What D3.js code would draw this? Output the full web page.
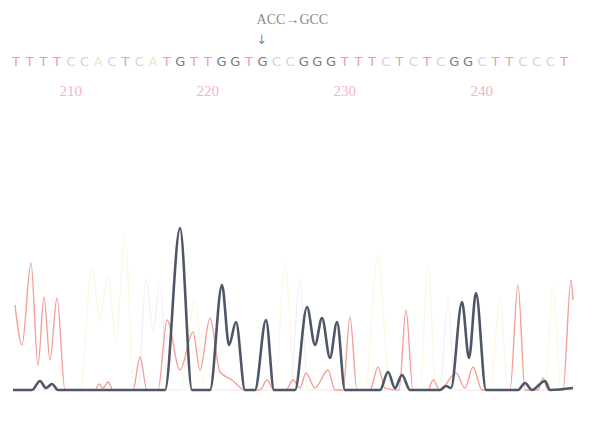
<!DOCTYPE html>
<html>
<head>
<meta charset="utf-8">
<script src="https://cdn.jsdelivr.net/npm/d3@7"></script>
<style>
  body { margin: 0; background: #fff; }
</style>
</head>
<body>
<div id="chart"></div>
<script>
// base calls, first base is number 206
const sequence = "TTTTCCACTCATGTTGGTGCCGGGTTTCTCTCGGCTTCCCT";
const firstBase = 206;
const positionTicks = [210, 220, 230, 240];
const mutationLabel = "ACC\u2192GCC";
const mutationBase = 224;

// trace vertices: [scan, intensity]
const traceG = [
  [0, 0], [19, 0], [27, 56], [33, 12], [39, 37], [45, 0], [152, 0], [167, 1000], [179, 0],
  [197, 0], [209, 648], [216, 278], [223, 420], [232, 0], [242, 0], [253, 432], [261, 0],
  [282, 0], [294, 512], [302, 278], [309, 444], [317, 198], [324, 420], [332, 0],
  [367, 0], [375, 111], [382, 12], [389, 93], [397, 0], [427, 0], [433, 25], [438, 12],
  [449, 543], [456, 198], [463, 599], [473, 0], [505, 0], [512, 43], [519, 0],
  [532, 56], [537, 0], [560, 12]
];
const traceT = [
  [2, 525], [9, 278], [18, 784], [25, 154], [31, 574], [37, 185], [44, 568], [52, 0],
  [82, 0], [86, 37], [90, 12], [95, 49], [100, 0], [120, 0], [127, 204], [134, 0],
  [145, 0], [154, 432], [167, 123], [180, 358], [187, 123], [197, 444], [207, 111],
  [219, 62], [232, 0], [247, 0], [254, 62], [261, 0], [273, 0], [280, 62], [287, 12],
  [293, 105], [302, 12], [315, 123], [322, 0], [330, 0], [337, 451], [344, 0],
  [357, 0], [365, 142], [372, 12], [386, 0], [393, 494], [400, 0], [415, 0], [420, 62],
  [427, 0], [443, 105], [452, 12], [460, 142], [469, 0], [497, 0], [505, 648], [512, 0],
  [525, 0], [530, 74], [535, 0], [550, 0], [558, 679], [560, 556]
];
const traceA = [
  [0, 0], [67, 0], [79, 753], [87, 432], [95, 710], [103, 309], [112, 951], [121, 0],
  [167, 0], [182, 556], [192, 0], [262, 0], [272, 790], [282, 0], [352, 0], [365, 833],
  [377, 0], [407, 0], [415, 772], [423, 0], [477, 0], [487, 556], [495, 0],
  [532, 0], [540, 648], [548, 0], [560, 0]
];
const traceC = [
  [0, 0], [125, 0], [133, 691], [140, 370], [147, 648], [155, 0], [277, 0], [287, 679],
  [295, 0], [427, 0], [435, 556], [442, 0], [560, 0]
];

const width = 606, height = 426;
const svg = d3.select("#chart").append("svg")
  .attr("width", width).attr("height", height)
  .style("background", "#fff");

const x = d3.scaleLinear().domain([0, 560]).range([13, 573]);
const y = d3.scaleLinear().domain([0, 1000]).range([390, 228]);
const bx = d3.scaleLinear().domain([firstBase, firstBase + 40]).range([16, 564]);

const baseColor = { G: "#7a7a7e", T: "#f09aa4", C: "#d2d2e8", A: "#e8ecc8" };

const line = d3.line()
  .x(d => x(d[0]))
  .y(d => y(d[1]))
  .curve(d3.curveMonotoneX);

const traces = [
  { data: traceA, color: "#fcf7de", w: 1.2 },
  { data: traceC, color: "#efeff8", w: 1.2 },
  { data: traceT, color: "#f3a29a", w: 1.4 },
  { data: traceG, color: "#4f5668", w: 2.6 }
];

svg.selectAll("path.trace")
  .data(traces)
  .enter().append("path")
  .attr("class", "trace")
  .attr("d", d => line(d.data))
  .attr("fill", "none")
  .attr("stroke", d => d.color)
  .attr("stroke-width", d => d.w)
  .attr("stroke-linejoin", "round");

// base letters
svg.selectAll("text.base")
  .data(sequence.split(""))
  .enter().append("text")
  .attr("class", "base")
  .attr("x", (d, i) => bx(firstBase + i))
  .attr("y", 66)
  .attr("text-anchor", "middle")
  .attr("font-family", "DejaVu Sans, sans-serif")
  .attr("font-size", 13)
  .attr("fill", d => baseColor[d])
  .text(d => d);

// position numbers
svg.selectAll("text.pos")
  .data(positionTicks)
  .enter().append("text")
  .attr("class", "pos")
  .attr("x", d => bx(d))
  .attr("y", 96)
  .attr("text-anchor", "middle")
  .attr("font-family", "Liberation Serif, serif")
  .attr("font-size", 15)
  .attr("fill", "#f2b6c6")
  .text(d => d);

// mutation annotation
svg.append("text")
  .attr("x", bx(mutationBase) - 6)
  .attr("y", 24)
  .attr("font-family", "Liberation Serif, serif")
  .attr("font-size", 14)
  .attr("fill", "#8a8a8a")
  .text(mutationLabel);

svg.append("text")
  .attr("x", bx(mutationBase) - 1)
  .attr("y", 44)
  .attr("text-anchor", "middle")
  .attr("font-family", "DejaVu Sans, sans-serif")
  .attr("font-size", 13)
  .attr("fill", "#8a8a8a")
  .text("\u2193");
</script>
</body>
</html>
